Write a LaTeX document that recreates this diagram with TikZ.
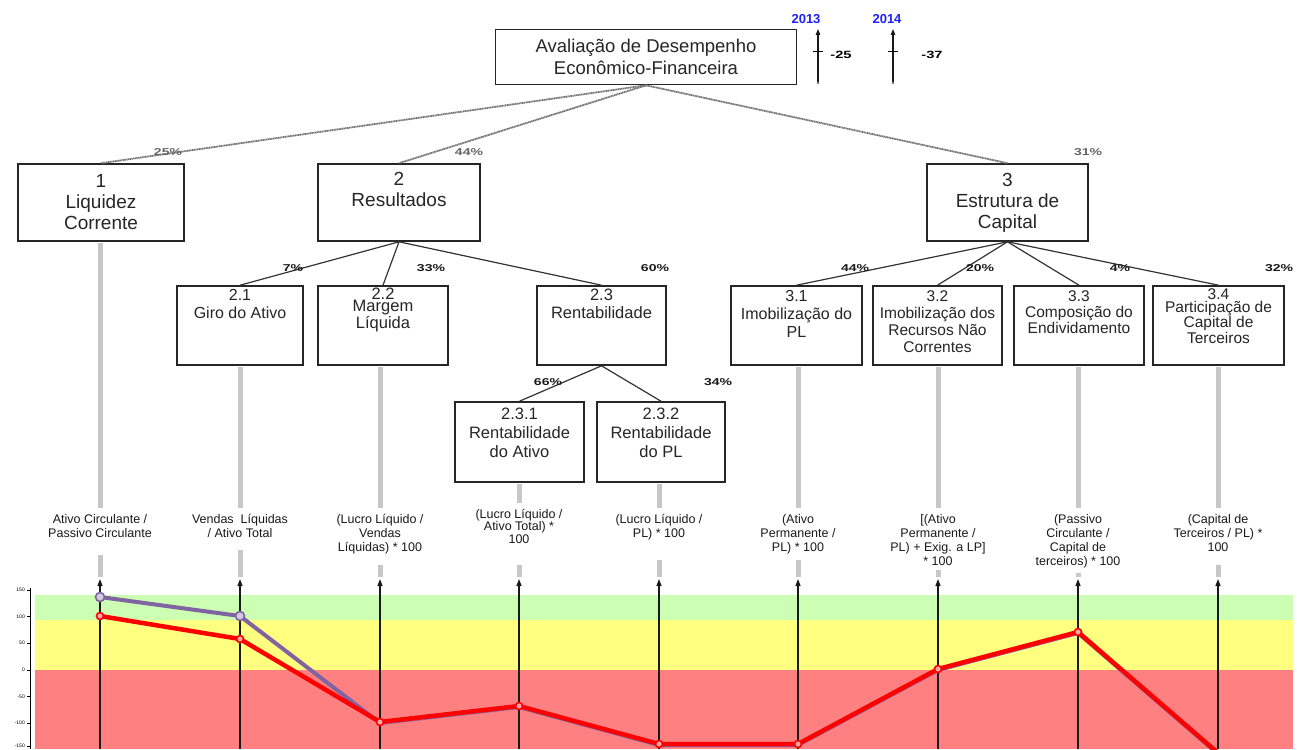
\documentclass[tikz,border=0pt]{standalone}
\usepackage{fontspec}
\setmainfont{Liberation Sans}
\newfontfamily\formfont{Liberation Sans}
\newfontfamily\pctfont[FakeStretch=1.4]{Liberation Sans}
\usetikzlibrary{arrows.meta}
\definecolor{bandgreen}{RGB}{204,255,179}
\definecolor{bandyellow}{RGB}{255,255,128}
\definecolor{bandred}{RGB}{255,128,128}
\definecolor{serA}{RGB}{128,100,162}
\definecolor{serB}{RGB}{255,0,0}
\definecolor{yearblue}{RGB}{30,30,255}
\newcommand{\fs}[2]{\fontsize{#1}{#2}\selectfont}
\begin{document}
\begin{tikzpicture}[x=1pt,y=-1pt,
  box/.style={draw=black!85, line width=1.6pt, fill=white, inner sep=0pt},
  btext/.style={align=center, inner sep=0pt, text=black!85},
  conn/.style={line width=1.2pt, draw=black!80},
  topconn/.style={line width=1.8pt, draw=black!55, dash pattern=on 1.2pt off 0.5pt},
  pct/.style={font=\pctfont\bfseries\fs{10}{10}, inner sep=0pt, text=black!90},
  toppct/.style={font=\pctfont\bfseries\fs{10}{10}, inner sep=0pt, text=black!60},
  gline/.style={line width=5pt, draw=black!22},
  formula/.style={anchor=north, align=center, font=\formfont\fs{12.5}{14}, inner sep=0pt, outer sep=6pt, text=black!90},
  axarrow/.style={line width=1.2pt, draw=black!90, -{Triangle[length=7pt,width=5pt]}},
  yarrow/.style={line width=1.2pt, draw=black!90, -{Triangle[length=6pt,width=4.5pt]}},
  ser/.style={line width=#1, line join=round, line cap=round},
  mark/.style={circle, draw=#1, fill=#1!35!white, line width=1.6pt, minimum size=9pt, inner sep=0pt},
  ticklab/.style={font=\fs{5}{5}, anchor=east, inner sep=1pt}
]
\useasboundingbox (0,0) rectangle (1297,749);

% ---------- header box and yearly indicators ----------
\node[box, minimum width=301, minimum height=55] (top) at (646,57) {};
\node[btext, font=\fs{18.5}{22}] (toptxt) at (top.center) {Avaliação de Desempenho\\Econômico-Financeira};

\node[font=\bfseries\fs{13}{13}, text=yearblue, inner sep=0pt] (yr13) at (806,19) {2013};
\node[font=\bfseries\fs{13}{13}, text=yearblue, inner sep=0pt] (yr14) at (887,19) {2014};
\coordinate (a13b) at (818,83); \coordinate (a13t) at (818,29);
\coordinate (a14b) at (893,83); \coordinate (a14t) at (893,29);
\draw[yarrow] (a13b) -- (a13t);
\draw[yarrow] (a14b) -- (a14t);
\draw[line width=1pt] (813,52) -- (823,52);
\draw[line width=1pt] (888,52) -- (898,52);
\fill[black!50] (a13b) circle (1.3pt);
\fill[black!50] (a14b) circle (1.3pt);
\node[font=\pctfont\bfseries\fs{10.5}{10.5}, inner sep=0pt] (v13) at (841,55) {-25};
\node[font=\pctfont\bfseries\fs{10.5}{10.5}, inner sep=0pt] (v14) at (932,55) {-37};

% ---------- first level ----------
\node[box, minimum width=166, minimum height=77] (b1) at (101,202.5) {};
\node[box, minimum width=162, minimum height=77] (b2) at (399,202.5) {};
\node[box, minimum width=161, minimum height=77] (b3) at (1007.5,202.5) {};
\node[btext, font=\fs{19}{21}] (b1t) at (b1.center) {1\\Liquidez\\Corrente};
\node[btext, font=\fs{19}{21}, anchor=north] (b2t) at ([yshift=-9pt]b2.north) {2\\Resultados};
\node[btext, font=\fs{19}{21}] (b3t) at (b3.center) {3\\Estrutura de\\Capital};

\draw[topconn] (top.south) -- (b1.north);
\draw[topconn] (top.south) -- (b2.north);
\draw[topconn] (top.south) -- (b3.north);
\node[toppct] (p1) at (168,152) {25\%};
\node[toppct] (p2) at (469,152) {44\%};
\node[toppct] (p3) at (1088,152) {31\%};

% ---------- second level ----------
\node[box, minimum width=126, minimum height=79] (b21) at (240,325.5) {};
\node[box, minimum width=130, minimum height=79] (b22) at (383,325.5) {};
\node[box, minimum width=129, minimum height=79] (b23) at (601.5,325.5) {};
\node[box, minimum width=131, minimum height=79] (b31) at (796.5,325.5) {};
\node[box, minimum width=129, minimum height=79] (b32) at (937.5,325.5) {};
\node[box, minimum width=130, minimum height=79] (b33) at (1079,325.5) {};
\node[box, minimum width=131, minimum height=79] (b34) at (1218.5,325.5) {};

\node[btext, anchor=north, font=\fs{16}{18}] (b21t) at ([yshift=-4pt]b21.north) {2.1\\Giro do Ativo};
\node[btext, anchor=north, font=\fs{16.5}{12}] (b22t) at ([yshift=-3pt]b22.north) {2.2\\Margem\\Líquida};
\node[btext, anchor=north, font=\fs{16.5}{18}] (b23t) at ([yshift=-4pt]b23.north) {2.3\\Rentabilidade};
\node[btext, anchor=north, font=\fs{16}{18}] (b31t) at ([yshift=-5pt]b31.north) {3.1\\Imobilização do\\PL};
\node[btext, anchor=north, font=\fs{15.5}{17}] (b32t) at ([yshift=-5pt]b32.north) {3.2\\Imobilização dos\\Recursos Não\\Correntes};
\node[btext, anchor=north, font=\fs{15.5}{16}] (b33t) at ([yshift=-5pt]b33.north) {3.3\\Composição do\\Endividamento};
\node[btext, anchor=north, font=\fs{15.5}{13}] (b34t) at ([yshift=-3pt]b34.north) {3.4\\Participação de\\Capital de\\Terceiros};

\draw[conn] (b2.south) -- (b21.north);
\draw[conn] (b2.south) -- (b22.north);
\draw[conn] (b2.south) -- (b23.north);
\draw[conn] (b3.south) -- (b31.north);
\draw[conn] (b3.south) -- (b32.north);
\draw[conn] (b3.south) -- (b33.north);
\draw[conn] (b3.south) -- (b34.north);
\node[pct] (p21) at (293,268) {7\%};
\node[pct] (p22) at (431,268) {33\%};
\node[pct] (p23) at (655,268) {60\%};
\node[pct] (p31) at (855,268) {44\%};
\node[pct] (p32) at (980,268) {20\%};
\node[pct] (p33) at (1120,268) {4\%};
\node[pct] (p34) at (1279,268) {32\%};

% ---------- third level ----------
\node[box, minimum width=129, minimum height=80] (b231) at (519.5,442) {};
\node[box, minimum width=128, minimum height=80] (b232) at (661,442) {};
\node[btext, anchor=north, font=\fs{16.5}{19}] (b231t) at ([yshift=-7pt]b231.north) {2.3.1\\Rentabilidade\\do Ativo};
\node[btext, anchor=north, font=\fs{16.5}{19}] (b232t) at ([yshift=-7pt]b232.north) {2.3.2\\Rentabilidade\\do PL};
\draw[conn] (b23.south) -- (b231.north);
\draw[conn] (b23.south) -- (b232.north);
\node[pct] (p231) at (548,382) {66\%};
\node[pct] (p232) at (718,382) {34\%};

% ---------- indicator formulas ----------
\node[formula] (f1) at (100,508) {Ativo Circulante /\\Passivo Circulante};
\node[formula] (f2) at (240,508) {Vendas \ Líquidas\\/ Ativo Total};
\node[formula] (f3) at (380,508) {(Lucro Líquido /\\Vendas\\Líquidas) * 100};
\node[formula, font=\formfont\fs{12.5}{11}] (f4) at (519,503) {(Lucro Líquido /\\Ativo Total) *\\100};
\node[formula] (f5) at (659,508) {(Lucro Líquido /\\PL) * 100};
\node[formula] (f6) at (798,508) {(Ativo\\Permanente /\\PL) * 100};
\node[formula] (f7) at (938,508) {[(Ativo\\Permanente /\\PL) + Exig. a LP]\\* 100};
\node[formula] (f8) at (1078,508) {(Passivo\\Circulante /\\Capital de\\terceiros) * 100};
\node[formula] (f9) at (1218,508) {(Capital de\\Terceiros / PL) *\\100};

% gray links from the boxes to the formulas
\draw[gline, shorten <=0.8pt] (f1.north |- b1.south) -- (f1.north);
\draw[gline, shorten <=0.8pt] (f2.north |- b21.south) -- (f2.north);
\draw[gline, shorten <=0.8pt] (f3.north |- b22.south) -- (f3.north);
\draw[gline, shorten <=0.8pt] (f4.north |- b231.south) -- (f4.north);
\draw[gline, shorten <=0.8pt] (f5.north |- b232.south) -- (f5.north);
\draw[gline, shorten <=0.8pt] (f6.north |- b31.south) -- (f6.north);
\draw[gline, shorten <=0.8pt] (f7.north |- b32.south) -- (f7.north);
\draw[gline, shorten <=0.8pt] (f8.north |- b33.south) -- (f8.north);
\draw[gline, shorten <=0.8pt] (f9.north |- b34.south) -- (f9.north);

% gray stubs below the formulas
\coordinate (g1) at (100,555); \coordinate (g2) at (240,550); \coordinate (g3) at (380,565);
\coordinate (g4) at (519,565); \coordinate (g5) at (659,560); \coordinate (g6) at (798,560);
\coordinate (g7) at (938,570); \coordinate (g8) at (1078,573); \coordinate (g9) at (1218,565);
\foreach \i in {1,...,9} {
  \draw[gline] (g\i) -- (g\i |- 0,577);
}

% ---------- chart ----------
\fill[bandgreen] (35,595) rectangle (1293,620);
\fill[bandyellow] (35,620) rectangle (1293,670);
\fill[bandred] (35,670) rectangle (1293,749);

\draw[line width=1pt] (30,588) -- (30,749);
\foreach \yv/\lab in {590/150, 616.5/100, 643/50, 670/0, 696.5/-50, 723/-100, 746/-150} {
  \draw[line width=0.8pt] (27,\yv) -- (30,\yv);
  \node[ticklab] at (26,\yv) {\lab};
}

\foreach \i in {1,...,9} {
  \draw[axarrow] (g\i |- 0,749) -- (g\i |- 0,579);
}

\begin{scope}
\clip (0,580) rectangle (1297,749);
\draw[ser=4pt, serA] (100,597) -- (240,616) -- (380,723) -- (519,707) -- (659,745) -- (798,745) -- (938,670) -- (1078,633) -- (1218,754);
\draw[ser=4.5pt, serB] (100,616) -- (240,639) -- (380,722) -- (519,706) -- (659,744) -- (798,744) -- (938,669) -- (1078,632) -- (1218,753);
\foreach \p in {(100,597),(240,616)} {
  \node[mark=serA] at \p {};
}
\foreach \p in {(100,616),(240,639),(380,722),(519,706),(659,744),(798,744),(938,669),(1078,632)} {
  \node[mark=serB, minimum size=7pt] at \p {};
}
\end{scope}
\end{tikzpicture}
\end{document}
